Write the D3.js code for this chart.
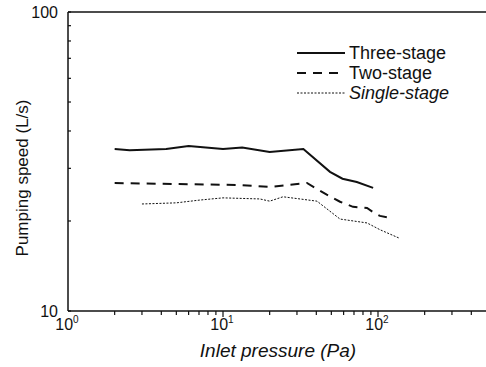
<!DOCTYPE html>
<html>
<head>
<meta charset="utf-8">
<script src="https://cdn.jsdelivr.net/npm/d3@7"></script>
<style>
  body { margin: 0; background: #fff; }
  text { font-family: "Liberation Sans", Arial, sans-serif; fill: #111; }
</style>
</head>
<body>
<div id="chart"></div>
<script>
// ========================
// Data
// ========================
const threeP = [2, 2.5, 4.3, 6, 10, 13.3, 20, 33, 49, 59, 73, 93];
const threeS = [34.8, 34.5, 34.8, 35.6, 34.8, 35.2, 34.0, 34.8, 29.2, 27.7, 27.0, 25.8];

const twoP = [2, 12.8, 20, 34.8, 40.4, 46.7, 56.9, 69, 85, 93, 103, 114];
const twoS = [26.8, 26.4, 26.0, 26.8, 25.6, 24.5, 23.2, 22.3, 22.1, 21.4, 20.8, 20.6];

const singleP = [3, 5, 7.1, 10, 17.3, 20, 24.4, 40.4, 56.9, 85, 103, 138];
const singleS = [22.8, 23.0, 23.5, 23.9, 23.7, 23.3, 24.1, 23.3, 20.3, 19.7, 18.7, 17.5];

const seriesNames = ["Three-stage", "Two-stage", "Single-stage"];
const xTickExps = [0, 1, 2];
const yTickLabels = [10, 100];

// ========================
// Setup
// ========================
const width = 486, height = 367;
const plotLeft = 68, plotTop = 12, plotBottom = 311;

const x = d3.scaleLog().domain([1, 1000]).range([plotLeft, plotLeft + 3 * 155]);
const y = d3.scaleLog().domain([10, 100]).range([plotBottom, plotTop]);

const svg = d3.select("#chart").append("svg")
    .attr("width", width)
    .attr("height", height);

const styles = [
    { width: 2, dash: null },
    { width: 2, dash: "9,7" },
    { width: 1, dash: "2,1.5" }
];

// ========================
// Axes
// ========================
// frame: top + left + bottom
svg.append("line").attr("x1", plotLeft).attr("x2", width).attr("y1", plotTop).attr("y2", plotTop)
    .attr("stroke", "#111").attr("stroke-width", 1.5);
svg.append("line").attr("x1", plotLeft).attr("x2", width).attr("y1", plotBottom).attr("y2", plotBottom)
    .attr("stroke", "#111").attr("stroke-width", 1.5);
svg.append("line").attr("x1", plotLeft).attr("x2", plotLeft).attr("y1", plotTop).attr("y2", plotBottom)
    .attr("stroke", "#111").attr("stroke-width", 1.5);

// x ticks (outward)
x.ticks().filter(t => x(t) > plotLeft && x(t) < width).forEach(t => {
    const major = Math.abs(Math.log10(t) % 1) < 1e-9;
    svg.append("line")
        .attr("x1", x(t)).attr("x2", x(t))
        .attr("y1", plotBottom).attr("y2", plotBottom + (major ? 6 : 4))
        .attr("stroke", "#111").attr("stroke-width", 1.2);
});

// y ticks (inward minor)
y.ticks().forEach(t => {
    svg.append("line")
        .attr("x1", plotLeft).attr("x2", plotLeft + 3)
        .attr("y1", y(t)).attr("y2", y(t))
        .attr("stroke", "#111").attr("stroke-width", 1.2);
});

// x tick labels 10^n
xTickExps.forEach(e => {
    const t = svg.append("text")
        .attr("x", x(Math.pow(10, e)) - 1)
        .attr("y", plotBottom + 19)
        .attr("text-anchor", "middle")
        .style("font-size", "16px");
    t.append("tspan").text("10");
    t.append("tspan").attr("dy", -7).style("font-size", "10px").text(e);
});

// y tick labels
yTickLabels.forEach(v => {
    svg.append("text")
        .attr("x", plotLeft - 10)
        .attr("y", y(v))
        .attr("dy", "0.36em")
        .attr("text-anchor", "end")
        .style("font-size", "16px")
        .text(v);
});

// axis titles
svg.append("text")
    .attr("x", 278)
    .attr("y", 357)
    .attr("text-anchor", "middle")
    .style("font-size", "19px")
    .style("font-style", "italic")
    .text("Inlet pressure (Pa)");

svg.append("text")
    .attr("transform", "translate(28,178) rotate(-90)")
    .attr("text-anchor", "middle")
    .style("font-size", "17px")
    .text("Pumping speed (L/s)");

// ========================
// Lines
// ========================
const line = d3.line()
    .x(d => x(d[0]))
    .y(d => y(d[1]));

const allSeries = [
    d3.zip(threeP, threeS),
    d3.zip(twoP, twoS),
    d3.zip(singleP, singleS)
];

allSeries.forEach((pts, i) => {
    svg.append("path")
        .datum(pts)
        .attr("d", line)
        .attr("fill", "none")
        .attr("stroke", "#111")
        .attr("stroke-width", styles[i].width)
        .attr("stroke-dasharray", styles[i].dash);
});

// ========================
// Legend
// ========================
seriesNames.forEach((name, i) => {
    const ly = 53 + i * 20;
    svg.append("line")
        .attr("x1", 297).attr("x2", 345)
        .attr("y1", ly).attr("y2", ly)
        .attr("stroke", "#111")
        .attr("stroke-width", styles[i].width)
        .attr("stroke-dasharray", styles[i].dash);
    svg.append("text")
        .attr("x", 349)
        .attr("y", ly + 6)
        .style("font-size", "18px")
        .style("font-style", i === 2 ? "italic" : "normal")
        .text(name);
});
</script>
</body>
</html>
